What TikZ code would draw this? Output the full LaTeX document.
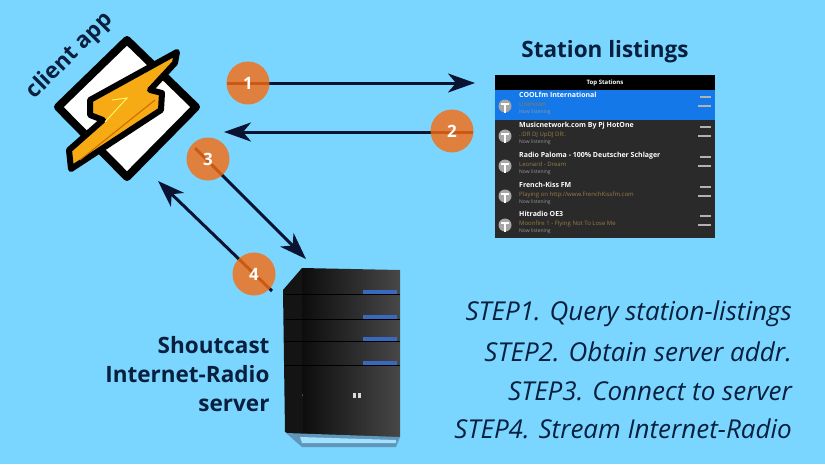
\documentclass[tikz,border=0pt]{standalone}
\usepackage{fontspec}
\setmainfont{Open Sans}
\usetikzlibrary{arrows.meta}
\definecolor{skybg}{RGB}{122,214,255}
\definecolor{navytext}{RGB}{8,32,62}
\definecolor{arrowink}{RGB}{10,20,50}
\definecolor{badge}{RGB}{250,107,16}
\definecolor{boltfill}{RGB}{246,170,20}
\definecolor{rowblue}{RGB}{20,120,232}
\definecolor{rowdark}{RGB}{42,42,42}
\definecolor{rowgold}{RGB}{150,125,70}
\definecolor{steelbase}{RGB}{95,150,185}
\definecolor{barblue}{RGB}{55,105,190}
\tikzset{
	>={Stealth[length=27pt,width=19pt,inset=8pt]},
	link/.style = {draw = arrowink, line width = 3pt},
	badgenode/.style = {circle, minimum size = 43pt, inner sep = 0pt, fill = badge, fill opacity = 0.8, text = white, text opacity = 1, font = \bfseries\fontsize{17}{17}\selectfont},
	caption/.style = {text = navytext, font = \bfseries\fontsize{22.5}{29}\selectfont},
	stepline/.style = {anchor = east, inner sep = 0pt, text = navytext, font = \itshape\fontsize{26}{26}\selectfont},
	rowtitle/.style = {anchor = west, text = white, inner sep = 0pt, text height = 4pt, text depth = 1pt, font = \bfseries\fontsize{7}{7}\selectfont},
	rowsub/.style = {anchor = west, text = rowgold, inner sep = 0pt, text height = 3.5pt, text depth = 1pt, font = \fontsize{6}{6}\selectfont},
	rowfoot/.style = {anchor = west, text = gray!80, inner sep = 0pt, text height = 3pt, text depth = 1pt, font = \fontsize{5}{5}\selectfont}
}
\begin{document}
\begin{tikzpicture}[x = 1pt, y = -1pt]
	\useasboundingbox[fill = skybg] (0,0) rectangle (825,464);
	% client app logo
	\draw[fill = white, draw = black, line width = 8pt, line join = round] (127,40) -- (196,107) -- (127,177) -- (58,107) -- cycle;
	\draw[fill = boltfill, draw = black, line width = 6pt, line join = round] (177,52) -- (90,100) -- (90,115) -- (103,120) -- (69,150) -- (71,169) -- (161,110) -- (162,93) -- (150,90) -- (175,63) -- cycle;
	\draw[draw = orange!80!black, line width = 1pt] (80,160) -- (155,100);
	\draw[draw = yellow!60, line width = 1pt] (105,122) -- (127,98) -- (112,100);
	\node[caption, rotate = 45] (clientlabel) at (70,56) {client app};
	% station listing screen
	\node[caption] (listingtitle) at (605,52) {Station listings};
	\fill[fill = rowdark] (495,75) rectangle (715,238);
	\fill[fill = rowblue] (495,90) rectangle (715,120);
	\fill[fill = black] (495,75) rectangle (715,90);
	\node[anchor = center, text = white, font = \bfseries\fontsize{6}{6}\selectfont] (listinghead) at (605,82.5) {Top Stations};
	\foreach \y/\name/\info in {105/{COOLfm International}/{Unknown},135/{Musicnetwork.com By Pj HotOne}/{.:DR DJ UpDJ DR:.},165/{Radio Paloma - 100\% Deutscher Schlager}/{Leonard - Dream},195/{French-Kiss FM}/{Playing on http://www.FrenchKissfm.com},224/{Hitradio OE3}/{Moonfire 1 - Flying Not To Lose Me}} {
		\fill[fill = gray!70] (505,\y+1) circle (6.5pt);
		\fill[fill = white] (504.2,\y) rectangle (505.8,\y+8);
		\fill[fill = white] (501,\y-2) rectangle (509,\y);
		\node[rowtitle] at (519,\y-9) {\name};
		\node[rowsub] at (519,\y) {\info};
		\node[rowfoot] at (519,\y+7.5) {Now listening};
		\fill[fill = gray!60] (700,\y-9) rectangle (711,\y-7);
		\fill[fill = gray!60] (698,\y) rectangle (711,\y+2);
	}
	% shoutcast server
	\fill[fill = black!92] (283,290) -- (302,268) -- (303,440) -- (285,432) -- cycle;
	\shade[left color = black!95, right color = black!72] (302,268) -- (400,270) -- (400,437) -- (303,437) -- cycle;
	\fill[fill = steelbase] (286,433) -- (400,437) -- (396,447) -- (302,447) -- cycle;
	\fill[fill = skybg!70!white] (300,437) -- (396,440) -- (396,443) -- (302,443) -- cycle;
	\foreach \y in {292,317,339,363} {
		\fill[fill = barblue] (363,\y-2) rectangle (397,\y+2);
		\draw[draw = black, line width = 0.8pt] (285,\y+2) -- (400,\y+2);
	}
	\fill[fill = white!85!black] (353,393) rectangle (355.5,398);
	\fill[fill = white!85!black] (358,393) rectangle (360.5,398);
	\node[caption, align = right, anchor = east] (serverlabel) at (273,374) {Shoutcast\\Internet-Radio\\server};
	% connectors
	\coordinate (from1) at (227,83);
	\coordinate (to1) at (475,83);
	\coordinate (from2) at (473,132);
	\coordinate (to2) at (224,132);
	\coordinate (from3) at (195,148);
	\coordinate (to3) at (306,259);
	\coordinate (from4) at (272,291);
	\coordinate (to4) at (158,181);
	\foreach \a/\b in {from1/to1,from2/to2,from3/to3,from4/to4} {
		\draw[link, ->] (\a) -- (\b);
	}
	\node[badgenode] (one) at (248,83) {1};
	\node[badgenode] (two) at (452,131) {2};
	\node[badgenode] (three) at (208,159) {3};
	\node[badgenode] (four) at (254,274) {4};
	% steps
	\node[stepline] (stepa) at (792,314) {STEP1. Query station-listings};
	\node[stepline] (stepb) at (792,352) {STEP2. Obtain server addr.};
	\node[stepline] (stepc) at (792,391) {STEP3. Connect to server};
	\node[stepline] (stepd) at (792,429) {STEP4. Stream Internet-Radio};
\end{tikzpicture}
\end{document}
